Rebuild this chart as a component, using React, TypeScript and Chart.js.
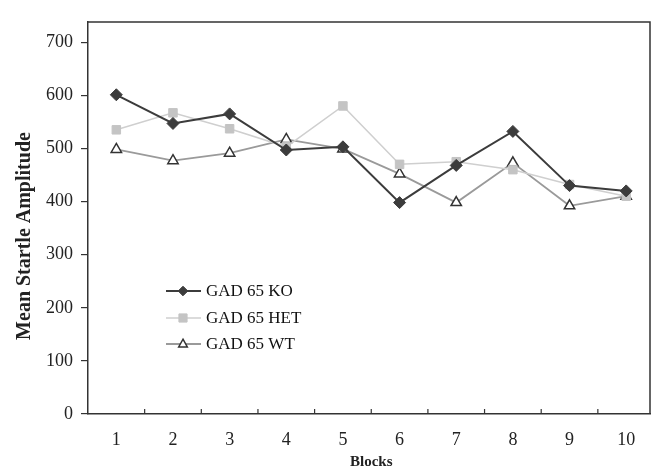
import React, { useEffect, useRef } from "react";
import { Chart, registerables } from "chart.js";

Chart.register(...registerables);

const blocks = ["1", "2", "3", "4", "5", "6", "7", "8", "9", "10"];
const koValues = [601, 547, 565, 497, 503, 398, 468, 532, 430, 420];
const hetValues = [535, 567, 537, 503, 580, 470, 475, 460, 432, 410];
const wtValues = [498, 477, 491, 517, 499, 452, 398, 473, 392, 410];
const seriesNames = ["GAD 65 KO", "GAD 65 HET", "GAD 65 WT"];
const yTickValues = [0, 100, 200, 300, 400, 500, 600, 700];
const yTitle = "Mean Startle Amplitude";

const FONT = "'Liberation Serif', 'Times New Roman', serif";

function drawMarker(ctx: CanvasRenderingContext2D, style: string, x: number, y: number, r: number) {
  ctx.beginPath();
  if (style === "rectRot") {
    ctx.moveTo(x, y - r);
    ctx.lineTo(x + r, y);
    ctx.lineTo(x, y + r);
    ctx.lineTo(x - r, y);
  } else if (style === "rect") {
    const s = r * 0.85;
    ctx.rect(x - s, y - s, 2 * s, 2 * s);
  } else {
    ctx.moveTo(x, y - r);
    ctx.lineTo(x + r * 0.9, y + r * 0.6);
    ctx.lineTo(x - r * 0.9, y + r * 0.6);
  }
  ctx.closePath();
  ctx.fill();
  ctx.stroke();
}

const framePlugin = {
  id: "frame",
  afterDraw(chart: any) {
    const { ctx, chartArea } = chart;
    const x = chart.scales.x;
    ctx.save();
    ctx.strokeStyle = "#333";
    ctx.lineWidth = 1.5;
    ctx.beginPath();
    ctx.moveTo(chartArea.left, chartArea.top);
    ctx.lineTo(650, chartArea.top);
    ctx.lineTo(650, chartArea.bottom);
    ctx.stroke();
    ctx.lineWidth = 1.2;
    for (let i = 0; i < blocks.length - 1; i++) {
      const px = (x.getPixelForValue(i) + x.getPixelForValue(i + 1)) / 2;
      ctx.beginPath();
      ctx.moveTo(px, chartArea.bottom);
      ctx.lineTo(px, chartArea.bottom - 5);
      ctx.stroke();
    }
    // y title
    ctx.save();
    ctx.translate(25, 236);
    ctx.rotate(-Math.PI / 2);
    ctx.font = `bold 20px ${FONT}`;
    ctx.fillStyle = "#222";
    ctx.textAlign = "center";
    ctx.textBaseline = "middle";
    ctx.fillText(yTitle, 0, 0);
    ctx.restore();
    // legend
    const rows = [291, 318, 344];
    ctx.font = `17px ${FONT}`;
    ctx.textBaseline = "middle";
    chart.data.datasets.forEach((ds: any, i: number) => {
      const y = rows[i];
      ctx.strokeStyle = ds.borderColor;
      ctx.lineWidth = ds.borderWidth;
      ctx.beginPath();
      ctx.moveTo(166, y);
      ctx.lineTo(201, y);
      ctx.stroke();
      ctx.fillStyle = ds.pointBackgroundColor;
      ctx.strokeStyle = ds.pointBorderColor;
      ctx.lineWidth = ds.pointBorderWidth;
      drawMarker(ctx, ds.pointStyle, 183, y, ds.pointRadius * 0.8);
      ctx.fillStyle = "#111";
      ctx.textAlign = "left";
      ctx.fillText(seriesNames[i], 206, y + 1);
    });
    ctx.restore();
  },
};

export default function App() {
  const ref = useRef<HTMLCanvasElement>(null);
  useEffect(() => {
    document.body.style.margin = "0";
    const chart = new Chart(ref.current!, {
      type: "line",
      data: {
        labels: blocks,
        datasets: [
          {
            label: seriesNames[0],
            data: koValues,
            borderColor: "#3c3c3c",
            borderWidth: 2,
            pointStyle: "rectRot",
            pointRadius: 6,
            pointBackgroundColor: "#3c3c3c",
            pointBorderColor: "#3c3c3c",
            pointBorderWidth: 1,
          },
          {
            label: seriesNames[1],
            data: hetValues,
            borderColor: "#cfcfcf",
            borderWidth: 1.5,
            pointStyle: "rect",
            pointRadius: 6,
            pointBackgroundColor: "#c4c4c4",
            pointBorderColor: "#c4c4c4",
            pointBorderWidth: 1,
          },
          {
            label: seriesNames[2],
            data: wtValues,
            borderColor: "#9a9a9a",
            borderWidth: 1.8,
            pointStyle: "triangle",
            pointRadius: 6,
            pointBackgroundColor: "#ffffff",
            pointBorderColor: "#333333",
            pointBorderWidth: 1.5,
          },
        ],
      },
      options: {
        animation: false,
        responsive: false,
        layout: { padding: { top: 22, right: 4, left: 0, bottom: 0 } },
        plugins: { legend: { display: false }, tooltip: { enabled: false } },
        scales: {
          x: {
            offset: true,
            grid: { display: false, drawTicks: false },
            border: { color: "#333", width: 1.5 },
            ticks: { color: "#222", font: { family: FONT, size: 18 }, padding: 15 },
            title: {
              display: true,
              text: "Blocks",
              color: "#222",
              font: { family: FONT, size: 15, weight: "bold" },
              padding: { top: 0, bottom: 0 },
            },
            afterFit: (s: any) => {
              s.height = 57;
            },
          },
          y: {
            min: 0,
            max: 738,
            ticks: {
              color: "#222",
              font: { family: FONT, size: 18 },
              padding: 8,
            },
            afterBuildTicks: (s: any) => {
              s.ticks = yTickValues.map((v) => ({ value: v }));
            },
            grid: {
              drawOnChartArea: false,
              drawTicks: true,
              tickLength: 7,
              color: "#333",
              lineWidth: 1.2,
            },
            border: { color: "#333", width: 1.5 },
            title: { display: false },
            afterFit: (s: any) => {
              s.width = 88;
            },
          },
        },
      },
      plugins: [framePlugin],
    });
    return () => chart.destroy();
  }, []);
  return (
    <div style={{ width: 651, height: 471, overflow: "hidden", background: "#fff" }}>
      <canvas ref={ref} width={662} height={471} style={{ display: "block" }} />
    </div>
  );
}
